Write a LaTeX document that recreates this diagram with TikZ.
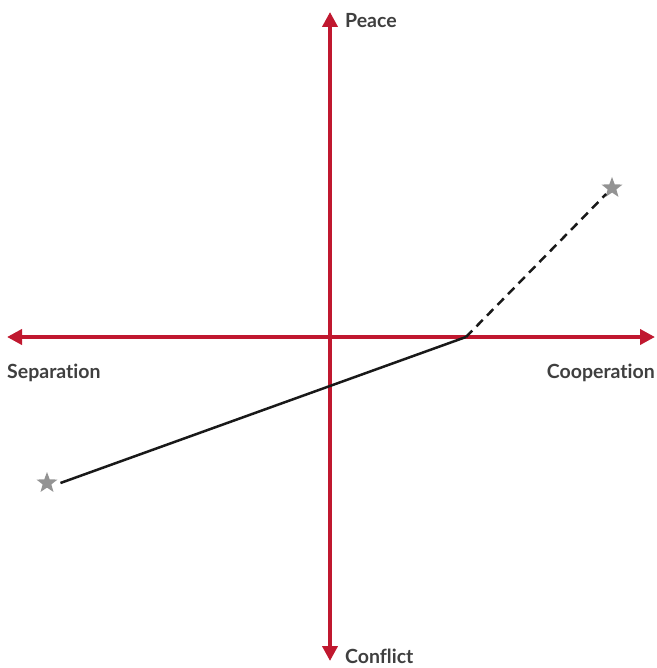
\documentclass[tikz,border=0pt]{standalone}
\usepackage{fontspec}
\setmainfont{Lato}[Ligatures=NoCommon]
\usetikzlibrary{arrows.meta,shapes.geometric}
\definecolor{axisred}{HTML}{C0182F}
\definecolor{labelgray}{HTML}{3F3F3F}
\begin{document}
\begin{tikzpicture}[x=1pt,y=-1pt]
    \tikzstyle{axis} = [axisred, line width=4pt, -{Triangle[length=15pt,width=15pt]}]
    \tikzstyle{label} = [text=labelgray, font=\bfseries\fontsize{19.5}{22}\selectfont, inner sep=0pt]
    \tikzstyle{marker} = [star, star points=5, star point ratio=2.4, fill=gray!85, inner sep=0pt, minimum size=22pt]
    \tikzstyle{path} = [black!90, line width=2.5pt]

    \useasboundingbox (0,0) rectangle (656,668);

    % axis ends
    \coordinate (origin) at (330,337);
    \coordinate (top) at (330,12);
    \coordinate (bottom) at (330,661);
    \coordinate (left) at (7,337);
    \coordinate (right) at (655,337);

    % axes
    \draw [axis] (origin) -- (top);
    \draw [axis] (origin) -- (bottom);
    \draw [axis] (origin) -- (left);
    \draw [axis] (origin) -- (right);

    % axis labels
    \node [label, anchor=base west] (peace) at (345,28) {Peace};
    \node [label, anchor=base west] (conflict) at (345,663) {Conflict};
    \node [label, anchor=base west] (separation) at (7,378) {Separation};
    \node [label, anchor=base east] (cooperation) at (655,378) {Cooperation};

    % stars and path
    \node [marker] (start) at (47,483) {};
    \node [marker] (goal) at (612,188) {};
    \coordinate (turn) at (466,337);
    \draw [path] (start.east) ++(7,0) coordinate (s) (s) -- (turn);
    \draw [path, dash pattern=on 9pt off 6pt] (turn) -- (goal);
\end{tikzpicture}
\end{document}
